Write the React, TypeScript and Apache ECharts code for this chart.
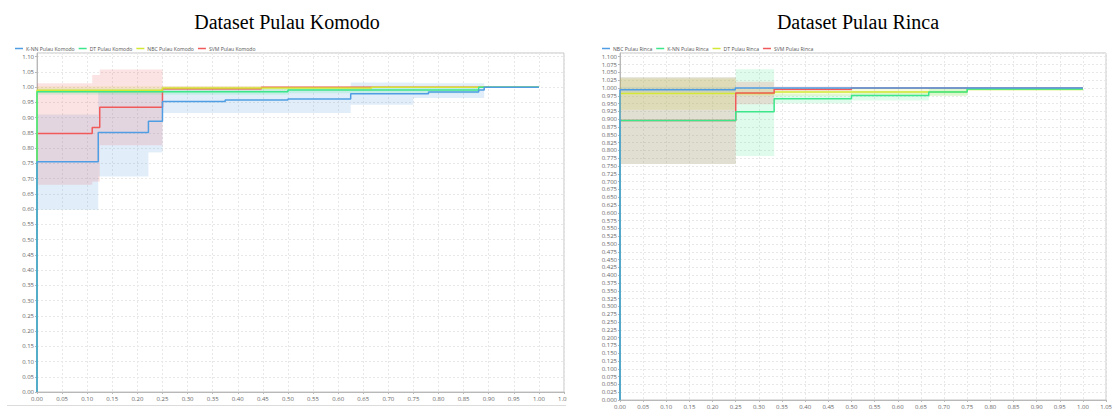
import React, { useEffect, useRef } from "react";
import * as echarts from "echarts";

// ---------- Titles / legends ----------
const titleKomodo = "Dataset Pulau Komodo";
const titleRinca = "Dataset Pulau Rinca";
const legendKomodo = ["K-NN Pulau Komodo", "DT Pulau Komodo", "NBC Pulau Komodo", "SVM Pulau Komodo"];
const legendRinca = ["NBC Pulau Rinca", "K-NN Pulau Rinca", "DT Pulau Rinca", "SVM Pulau Rinca"];

// ---------- Komodo ROC step curves [fpr, tpr] ----------
const knnKomodo = [[0, 0], [0, 0.755], [0.122, 0.851], [0.222, 0.888], [0.25, 0.953], [0.375, 0.958], [0.5, 0.961], [0.625, 0.978], [0.78, 0.984], [0.88, 0.991], [0.891, 1.0], [1.0, 1.0]];
const dtKomodo = [[0, 0], [0, 0.985], [0.5, 0.991], [0.88, 1.0], [1.0, 1.0]];
const nbcKomodo = [[0, 0], [0, 0.99], [0.25, 0.997], [0.667, 1.0], [1.0, 1.0]];
const svmKomodo = [[0, 0], [0, 0.848], [0.11, 0.868], [0.125, 0.934], [0.25, 0.995], [0.447, 1.0], [1.0, 1.0]];

// Komodo bands [fromX, toX, low, high]
const knnKomodoBand = [[0, 0.122, 0.598, 0.91], [0.122, 0.222, 0.707, 0.985], [0.222, 0.25, 0.786, 0.985], [0.25, 0.625, 0.915, 0.995], [0.625, 0.75, 0.942, 1.015], [0.75, 0.891, 0.964, 1.013]];
const dtKomodoBand = [[0, 0.5, 0.975, 0.995], [0.5, 0.88, 0.98, 1.0]];
const nbcKomodoBand = [[0, 0.25, 0.982, 1.003], [0.25, 0.667, 0.99, 1.004]];
const svmKomodoBand = [[0, 0.11, 0.68, 1.013], [0.11, 0.125, 0.69, 1.04], [0.125, 0.25, 0.809, 1.058], [0.25, 0.447, 0.99, 1.003]];

// ---------- Rinca ROC step curves ----------
const nbcRinca = [[0, 0], [0, 0.994], [0.249, 1.0], [1.0, 1.0]];
const knnRinca = [[0, 0], [0, 0.896], [0.25, 0.924], [0.333, 0.965], [0.5, 0.976], [0.667, 0.987], [0.75, 0.997], [1.0, 0.997]];
const dtRinca = [[0, 0], [0, 0.982], [0.333, 0.987], [0.75, 0.995], [1.0, 0.995]];
const svmRinca = [[0, 0], [0, 0.896], [0.25, 0.984], [0.333, 0.996], [0.5, 1.0], [1.0, 1.0]];

const nbcRincaBand = [[0, 0.25, 0.985, 1.003]];
const knnRincaBand = [[0, 0.25, 0.756, 1.034], [0.25, 0.333, 0.782, 1.06], [0.333, 0.5, 0.95, 0.98], [0.5, 0.667, 0.96, 0.99], [0.667, 0.75, 0.975, 1.0]];
const dtRincaBand = [[0, 0.25, 0.93, 1.03], [0.25, 0.75, 0.975, 0.998]];
const svmRincaBand = [[0, 0.25, 0.756, 1.034], [0.25, 0.333, 0.948, 1.02], [0.333, 0.5, 0.99, 1.005]];

const BLUE = "#4f9de3";
const GREEN = "#3ce68a";
const YELLOW = "#d2e834";
const RED = "#f05a5a";
const LABEL_FONT = "Open Sans";

function band(name: string, data: number[][], color: string, gi: number) {
  return {
    type: "custom",
    name,
    xAxisIndex: gi,
    yAxisIndex: gi,
    silent: true,
    z: 1,
    data,
    renderItem: (_p: any, api: any) => {
      const a = api.coord([api.value(0), api.value(3)]);
      const b = api.coord([api.value(1), api.value(2)]);
      return {
        type: "rect",
        shape: { x: a[0], y: a[1], width: b[0] - a[0], height: b[1] - a[1] },
        style: { fill: color, opacity: 0.17 },
      };
    },
  };
}

function line(name: string, data: number[][], color: string, gi: number, z: number) {
  return {
    type: "line",
    name,
    xAxisIndex: gi,
    yAxisIndex: gi,
    data,
    step: "end",
    showSymbol: false,
    symbol: "none",
    z,
    lineStyle: { color, width: 1.5 },
    itemStyle: { color },
  };
}

function xAxis(gi: number) {
  return {
    type: "value",
    gridIndex: gi,
    min: 0,
    max: 1.05,
    interval: 0.05,
    axisLine: { show: true, lineStyle: { color: "#b8b8b8" } },
    axisTick: { show: true, length: 2, lineStyle: { color: "#b8b8b8" } },
    axisLabel: {
      fontSize: 6,
      color: "#666",
      margin: 4,
      fontFamily: LABEL_FONT,
      formatter: (v: number) => v.toFixed(2),
    },
    splitLine: { show: true, lineStyle: { color: "#e8e8e8", type: [2, 2] } },
  };
}

function yAxis(gi: number, interval: number, digits: number) {
  return {
    type: "value",
    gridIndex: gi,
    min: 0,
    max: 1.112,
    interval,
    axisLine: { show: true, lineStyle: { color: "#b8b8b8" } },
    axisTick: { show: true, length: 2, lineStyle: { color: "#b8b8b8" } },
    axisLabel: {
      fontSize: 6,
      color: "#666",
      margin: 3,
      fontFamily: LABEL_FONT,
      showMaxLabel: false,
      formatter: (v: number) => v.toFixed(digits),
    },
    splitLine: { show: true, lineStyle: { color: "#e8e8e8", type: [2, 2] } },
  };
}

export default function App() {
  const ref = useRef<HTMLDivElement>(null);
  useEffect(() => {
    if (!ref.current) return;
    const chart = echarts.init(ref.current, undefined, { renderer: "svg" });
    const legendText = { fontSize: 5.1, color: "#555", fontFamily: LABEL_FONT, padding: [0, 0, 0, -2] };
    chart.setOption({
      animation: false,
      backgroundColor: "#fff",
      graphic: [
        {
          type: "text",
          x: 287,
          y: 22,
          z: 10,
          style: {
            text: titleKomodo,
            fontSize: 20,
            fontFamily: "Liberation Serif",
            fill: "#000",
            align: "center",
            verticalAlign: "middle",
            textAlign: "center",
            textVerticalAlign: "middle",
          },
        },
        {
          type: "text",
          x: 858,
          y: 22,
          z: 10,
          style: {
            text: titleRinca,
            fontSize: 20,
            fontFamily: "Liberation Serif",
            fill: "#000",
            align: "center",
            verticalAlign: "middle",
            textAlign: "center",
            textVerticalAlign: "middle",
          },
        },
        { type: "rect", z: 100, shape: { x: 567, y: 396, width: 16, height: 14 }, style: { fill: "#fff" } },
        { type: "line", z: 100, shape: { x1: 7, y1: 405.5, x2: 566, y2: 405.5 }, style: { stroke: "#dcdcdc", lineWidth: 1 } },
      ],
      legend: [
        {
          data: legendKomodo,
          left: 10,
          top: 41,
          icon: "rect",
          itemWidth: 8,
          itemHeight: 1.5,
          itemGap: 4,
          textStyle: legendText,
        },
        {
          data: legendRinca,
          left: 597,
          top: 41,
          icon: "rect",
          itemWidth: 8,
          itemHeight: 1.5,
          itemGap: 4,
          textStyle: legendText,
        },
      ],
      grid: [
        { left: 37, top: 53, width: 527, height: 339, show: true, borderColor: "#c4c4c4", borderWidth: 1, backgroundColor: "transparent" },
        { left: 620, top: 53, width: 494.5, height: 349.3, show: true, borderColor: "#c4c4c4", borderWidth: 1, backgroundColor: "transparent" },
      ],
      xAxis: [xAxis(0), xAxis(1)],
      yAxis: [yAxis(0, 0.05, 2), yAxis(1, 0.025, 3)],
      series: [
        band("knnKomodoBand", knnKomodoBand, BLUE, 0),
        band("dtKomodoBand", dtKomodoBand, GREEN, 0),
        band("nbcKomodoBand", nbcKomodoBand, YELLOW, 0),
        band("svmKomodoBand", svmKomodoBand, RED, 0),
        line("SVM Pulau Komodo", svmKomodo, RED, 0, 2),
        line("NBC Pulau Komodo", nbcKomodo, YELLOW, 0, 3),
        line("DT Pulau Komodo", dtKomodo, GREEN, 0, 4),
        line("K-NN Pulau Komodo", knnKomodo, BLUE, 0, 5),

        band("nbcRincaBand", nbcRincaBand, BLUE, 1),
        band("knnRincaBand", knnRincaBand, GREEN, 1),
        band("dtRincaBand", dtRincaBand, YELLOW, 1),
        band("svmRincaBand", svmRincaBand, RED, 1),
        line("DT Pulau Rinca", dtRinca, YELLOW, 1, 2),
        line("SVM Pulau Rinca", svmRinca, RED, 1, 3),
        line("K-NN Pulau Rinca", knnRinca, GREEN, 1, 4),
        line("NBC Pulau Rinca", nbcRinca, BLUE, 1, 5),
      ],
    });
    return () => chart.dispose();
  }, []);
  return (
    <div
      ref={ref}
      style={{ position: "fixed", left: 0, top: 0, width: 1115, height: 410, background: "#fff" }}
    />
  );
}
